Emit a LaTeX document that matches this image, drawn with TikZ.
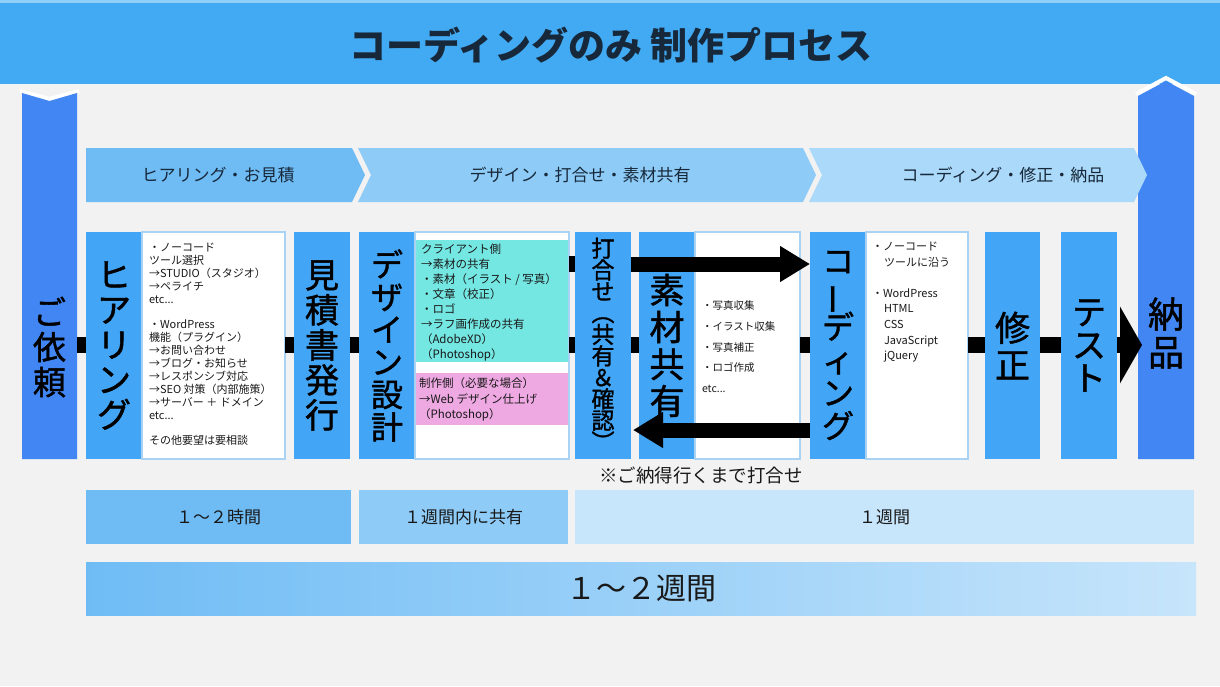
\documentclass[tikz,border=0pt]{standalone}
\usepackage{graphicx}
\usepackage{fontspec}
\setmainfont{Noto Sans CJK JP}
\newfontfamily\tatemoji{Noto Sans CJK JP}[FakeBold=1.3]
\usetikzlibrary{arrows.meta}
\definecolor{bgray}{HTML}{F2F2F2}
\definecolor{headblue}{HTML}{42AAF3}
\definecolor{headlight}{HTML}{90D0F8}
\definecolor{stepblue}{HTML}{42A5F5}
\definecolor{endblue}{HTML}{4286F4}
\definecolor{tone1}{HTML}{6FBCF5}
\definecolor{tone2}{HTML}{8ECCF7}
\definecolor{tone3}{HTML}{AAD9F9}
\definecolor{tone4}{HTML}{C7E5FB}
\definecolor{memoline}{HTML}{A9D2F3}
\definecolor{cyanmemo}{HTML}{74E7E3}
\definecolor{pinkmemo}{HTML}{EEA8E2}
\definecolor{inkblue}{HTML}{17283A}
\newcommand{\tatefont}[2]{\tatemoji\fontsize{#1}{#2}\selectfont\lineskiplimit=-100pt\lineskip=0pt}
\newcommand{\vlong}{\rotatebox[origin=c]{90}{ー}}
\newcommand{\vopen}{\rotatebox[origin=c]{-90}{（}}
\newcommand{\vclose}{\rotatebox[origin=c]{-90}{）}}

\begin{document}
\begin{tikzpicture}[x=1pt, y=-1pt,
	every node/.style={inner sep=0pt, outer sep=0pt},
	colbox/.style={fill=stepblue, minimum width=56pt, minimum height=227pt, align=center, font=\tatefont{34}{35}},
	bigtxt/.style={align=center, font=\tatefont{33}{35}},
	memo/.style={fill=white, draw=memoline, line width=1.2pt, minimum height=227pt},
	memotext/.style={anchor=north west, align=left, text=black!90},
	bandtext/.style={text=inkblue, font=\fontsize{17}{17}\selectfont},
	tagbar/.style={minimum height=54pt, text=black!90, font=\fontsize{17}{17}\selectfont},
	linkbar/.style={line width=16pt, black},
	bigarrow/.style={line width=15pt, black, -{Triangle[length=30pt, width=34pt]}}]
	\useasboundingbox (0,0) rectangle (1220,686);
	\fill[bgray] (0,0) rectangle (1220,686);
	%header
	\fill[headblue] (0,0) rectangle (1220,84);
	\fill[headlight] (0,0) rectangle (1220,2.5);
	\node[text=inkblue, font=\fontsize{37}{37}\selectfont\bfseries] (title) at (611,45) {コーディングのみ 制作プロセス};
	%start and end
	\draw[white, line width=4pt] (20,91) -- (49.5,99) -- (79,91);
	\fill[endblue] (22,93) -- (49.5,101) -- (77,93) -- (77,459) -- (22,459) -- cycle;
	\node[bigtxt] (irai) at (49.5,347) {ご\\依\\頼};
	\draw[white, line width=4pt] (1136,94) -- (1166,78) -- (1196,94);
	\fill[endblue] (1138,96) -- (1166,81) -- (1194,96) -- (1194,459) -- (1138,459) -- cycle;
	\node[bigtxt, font=\tatefont{36}{38}] (noh) at (1166,333) {納\\品};
	%phases
	\fill[tone1] (86,148) -- (352,148) -- (365,175) -- (352,202) -- (86,202) -- cycle;
	\fill[tone2] (358,148) -- (803,148) -- (816,175) -- (803,202) -- (358,202) -- (371,175) -- cycle;
	\fill[tone3] (809,148) -- (1134,148) -- (1147,175) -- (1134,202) -- (809,202) -- (822,175) -- cycle;
	\node[bandtext] (phase1) at (218,175) {ヒアリング・お見積};
	\node[bandtext] (phase2) at (580,175) {デザイン・打合せ・素材共有};
	\node[bandtext] (phase3) at (1003,175) {コーディング・修正・納品};
	%columns
	\node[colbox] (hear) at (114,345.5) {ヒ\\ア\\リ\\ン\\グ};
	\node[colbox] (mitsu) at (322,345.5) {見\\積\\書\\発\\行};
	\node[colbox, font=\tatefont{32}{32.5}] (design) at (387,345.5) {デ\\ザ\\イ\\ン\\設\\計};
	\node[colbox, font=\tatefont{23}{21.5}] (uchi) at (603,345.5) {打\\合\\せ\\\vopen\\共\\有\\＆\\確\\認\\\vclose};
	\node[colbox, font=\tatefont{35}{37}] (sozai) at (667,345.5) {素\\材\\共\\有};
	\node[colbox, font=\tatefont{32}{33}] (coding) at (838,345.5) {コ\\\vlong\\デ\\ィ\\ン\\グ};
	\node[colbox, minimum width=55pt, font=\tatefont{35}{37}] (shusei) at (1012.5,345.5) {修\\正};
	\node[colbox, font=\tatefont{34}{33}] (test) at (1089,345.5) {テ\\ス\\ト};
	%notes
	\node[memo, minimum width=143pt] (htext) at (213.5,345.5) {};
	\node[memotext, font=\fontsize{11}{12.9}\selectfont] (hnote) at (149,243)
	{・ノーコード\\ツール選択\\→STUDIO（スタジオ）\\→ペライチ\\etc...\\[12.9pt]
		・WordPress\\機能（プラグイン）\\→お問い合わせ\\→ブログ・お知らせ\\→レスポンシブ対応\\
		→SEO 対策（内部施策）\\→サーバー ＋ ドメイン\\etc...\\[12.9pt]その他要望は要相談};
	\node[memo, minimum width=154pt] (dbox) at (492,345.5) {};
	\node[fill=cyanmemo, minimum width=152pt, minimum height=122pt] (dcyan) at (492,301) {};
	\node[fill=pinkmemo, minimum width=152pt, minimum height=52pt] (dpink) at (492,399) {};
	\node[memotext, font=\fontsize{11.5}{15}\selectfont] (cnote) at (421,244)
	{クライアント側\\→素材の共有\\・素材（イラスト / 写真）\\・文章（校正）\\・ロゴ\\
		→ラフ画作成の共有\\（AdobeXD）\\（Photoshop）};
	\node[memotext, font=\fontsize{11.5}{15.5}\selectfont] (pnote) at (419,378)
	{制作側（必要な場合）\\→Web デザイン仕上げ\\（Photoshop）};
	\node[memo, minimum width=105pt] (stext) at (747.5,345.5) {};
	\node[memotext, font=\fontsize{10.5}{20.7}\selectfont] (snote) at (702,301)
	{・写真収集\\・イラスト収集\\・写真補正\\・ロゴ作成\\etc...};
	\node[memo, minimum width=102pt] (ctext) at (917,345.5) {};
	\node[memotext, font=\fontsize{11}{15.6}\selectfont] (cnote2) at (872,242)
	{・ノーコード\\\hspace*{1.1em}ツールに沿う\\[15.6pt]・WordPress\\
		\hspace*{1.1em}HTML\\\hspace*{1.1em}CSS\\\hspace*{1.1em}JavaScript\\\hspace*{1.1em}jQuery};
	%links
	\coordinate (midline) at (0,345);
	\coordinate (topline) at (0,264);
	\coordinate (lowline) at (0,430);
	\coordinate (irai edge) at (77,345);
	\coordinate (noh edge) at (1142,345);
	\draw[linkbar] (irai edge) -- (hear.west |- midline);
	\foreach \a/\b in {htext/mitsu, mitsu/design, dbox/uchi, uchi/sozai, stext/coding, ctext/shusei, shusei/test}
	\draw[linkbar] (\a.east |- midline) -- (\b.west |- midline);
	\draw[linkbar] (dbox.east |- topline) -- (uchi.west |- topline);
	\draw[bigarrow] (uchi.east |- topline) -- (coding.west |- topline);
	\draw[bigarrow] (coding.west |- lowline) -- ([xshift=2pt]uchi.east |- lowline);
	\draw[linkbar, -{Triangle[length=22pt, width=76pt]}] (test.east |- midline) -- (noh edge);
	\node[text=black!90, font=\fontsize{18.5}{18.5}\selectfont] (remark) at (701,475) {※ご納得行くまで打合せ};
	%times
	\node[tagbar, fill=tone1, minimum width=265pt] (time1) at (218.5,517) {１～２時間};
	\node[tagbar, fill=tone2, minimum width=209pt] (time2) at (463.5,517) {１週間内に共有};
	\node[tagbar, fill=tone4, minimum width=619pt] (time3) at (884.5,517) {１週間};
	\node[left color=tone1, right color=tone4, minimum width=1110pt, minimum height=53pt,
	text=black!90, font=\fontsize{30}{30}\selectfont] (total) at (641,588.5) {１～２週間};
\end{tikzpicture}
\end{document}
